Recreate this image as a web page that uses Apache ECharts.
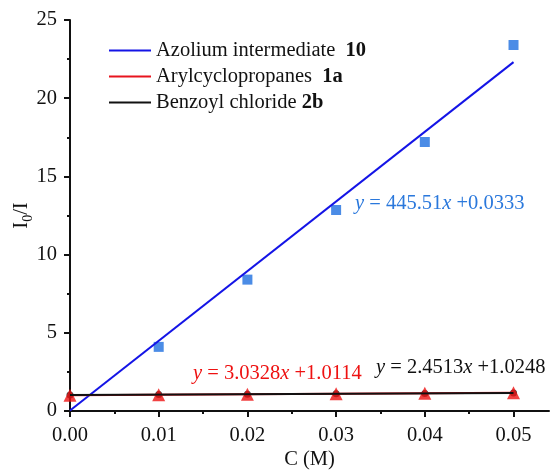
<!DOCTYPE html>
<html>
<head>
<meta charset="utf-8">
<script src="https://cdn.jsdelivr.net/npm/echarts@6/dist/echarts.min.js"></script>
<style>
  html, body { margin: 0; padding: 0; background: #fff; }
  #chart { width: 551px; height: 473px; }
</style>
</head>
<body>
<div id="chart"></div>
<script>
var conc = [0, 0.01, 0.02, 0.03, 0.04, 0.05];
var azolium = [null, 4.1, 8.4, 12.85, 17.2, 23.4];
var arylcyclo = [1.0, 1.04, 1.07, 1.1, 1.13, 1.16];
var benzoyl = [1.02, 1.05, 1.07, 1.1, 1.12, 1.15];
// fitted lines: [slope, intercept]
var fitAzolium = [445.51, 0.0333];
var fitAryl = [3.0328, 1.0114];
var fitBenzoyl = [2.4513, 1.0248];
var xMajor = [0, 0.01, 0.02, 0.03, 0.04, 0.05];
var xMinor = [0.005, 0.015, 0.025, 0.035, 0.045];

(function(){
  var myChart = echarts.init(document.getElementById('chart'));
  var font = 'Liberation Serif';
  var fs = 20.5;

  function pts(ys) {
    var out = [];
    for (var i = 0; i < conc.length; i++) {
      if (ys[i] != null) out.push([conc[i], ys[i]]);
    }
    return out;
  }
  function fitLine(f) {
    var x0 = conc[0], x1 = conc[conc.length - 1];
    return [[x0, f[0] * x0 + f[1]], [x1, f[0] * x1 + f[1]]];
  }
  function eq(txt, color, left, top) {
    return {
      type: 'text', left: left, top: top,
      style: {
        text: txt, fill: color, fontFamily: font, fontSize: fs,
        rich: { i: { fontStyle: 'italic', fontFamily: font, fontSize: fs, fill: color } }
      }
    };
  }

  var option = {
    animation: false,
    textStyle: { fontFamily: font },
    grid: { left: 70, right: 2, top: 20, bottom: 62, containLabel: false, outerBoundsMode: 'none' },
    legend: {
      left: 104,
      top: 35,
      orient: 'vertical',
      itemWidth: 42,
      itemHeight: 2,
      itemGap: 5,
      icon: 'rect',
      data: ['Azolium', 'Aryl', 'Benzoyl'],
      formatter: function(name) {
        if (name === 'Azolium') return 'Azolium intermediate  {b|10}';
        if (name === 'Aryl') return 'Arylcyclopropanes  {b|1a}';
        return 'Benzoyl chloride {b|2b}';
      },
      textStyle: {
        fontFamily: font, fontSize: fs, color: '#111', lineHeight: 20,
        rich: { b: { fontWeight: 'bold', fontFamily: font, fontSize: fs, color: '#111', lineHeight: 20 } }
      }
    },
    xAxis: [{
      type: 'value',
      min: 0,
      max: 0.054,
      name: 'C (M)',
      nameLocation: 'middle',
      nameGap: 38,
      nameMoveOverlap: false,
      nameTextStyle: { fontFamily: font, fontSize: fs, color: '#111' },
      splitLine: { show: false },
      axisLine: { lineStyle: { color: '#111', width: 2 } },
      axisTick: { customValues: xMajor, length: 6, lineStyle: { color: '#111', width: 2 } },
      axisLabel: {
        customValues: xMajor,
        fontFamily: font, fontSize: fs, color: '#111', margin: 14,
        formatter: function(v) { return v.toFixed(2); }
      }
    }, {
      type: 'value',
      min: 0,
      max: 0.054,
      position: 'bottom',
      splitLine: { show: false },
      axisLine: { show: false },
      axisTick: { customValues: xMinor, length: 3, lineStyle: { color: '#111', width: 2 } },
      axisLabel: { show: false }
    }],
    yAxis: {
      type: 'value',
      min: 0,
      max: 25,
      interval: 5,
      name: 'I{s|0}/I',
      nameLocation: 'middle',
      nameGap: 35,
      nameMoveOverlap: false,
      nameRotate: 90,
      nameTextStyle: {
        fontFamily: font, fontSize: fs, color: '#111',
        rich: { s: { fontFamily: font, fontSize: 14, color: '#111', verticalAlign: 'bottom', padding: [12, 0, 0, 0] } }
      },
      splitLine: { show: false },
      axisLine: { show: true, lineStyle: { color: '#111', width: 2 } },
      axisTick: { show: true, length: 6, lineStyle: { color: '#111', width: 2 } },
      minorTick: { show: true, splitNumber: 2, length: 3, lineStyle: { color: '#111', width: 2 } },
      axisLabel: { fontFamily: font, fontSize: fs, color: '#111', margin: 13 }
    },
    series: [
      {
        name: 'Azolium', type: 'line', data: fitLine(fitAzolium),
        symbol: 'none', lineStyle: { color: '#1414e6', width: 2 }, itemStyle: { color: '#1414e6' }, z: 3
      },
      {
        name: 'Aryl', type: 'line', data: fitLine(fitAryl),
        symbol: 'none', lineStyle: { color: '#e8141e', width: 2 }, itemStyle: { color: '#e8141e' }, z: 3
      },
      {
        name: 'Benzoyl', type: 'line', data: fitLine(fitBenzoyl),
        symbol: 'none', lineStyle: { color: '#111', width: 2 }, itemStyle: { color: '#111' }, z: 4
      },
      {
        name: 'AzoliumPts', type: 'scatter', data: pts(azolium),
        symbol: 'rect', symbolSize: 10, itemStyle: { color: '#1e6fe0' }, z: 2
      },
      {
        name: 'BenzoylPts', type: 'scatter', data: pts(benzoyl),
        symbol: 'circle', symbolSize: 7, itemStyle: { color: '#111' }, z: 2
      },
      {
        name: 'ArylPts', type: 'scatter', data: pts(arylcyclo),
        symbol: 'triangle', symbolSize: 13, itemStyle: { color: '#ee1111' }, z: 2
      }
    ],
    graphic: [
      eq('{i|y} = 445.51{i|x} +0.0333', '#2a78dc', 355, 193),
      eq('{i|y} = 3.0328{i|x} +1.0114', '#ee1111', 193, 363),
      eq('{i|y} = 2.4513{i|x} +1.0248', '#111', 376, 357)
    ]
  };
  myChart.setOption(option);
  window.addEventListener('resize', function() {
    myChart.resize();
  });
})();
</script>
</body>
</html>
